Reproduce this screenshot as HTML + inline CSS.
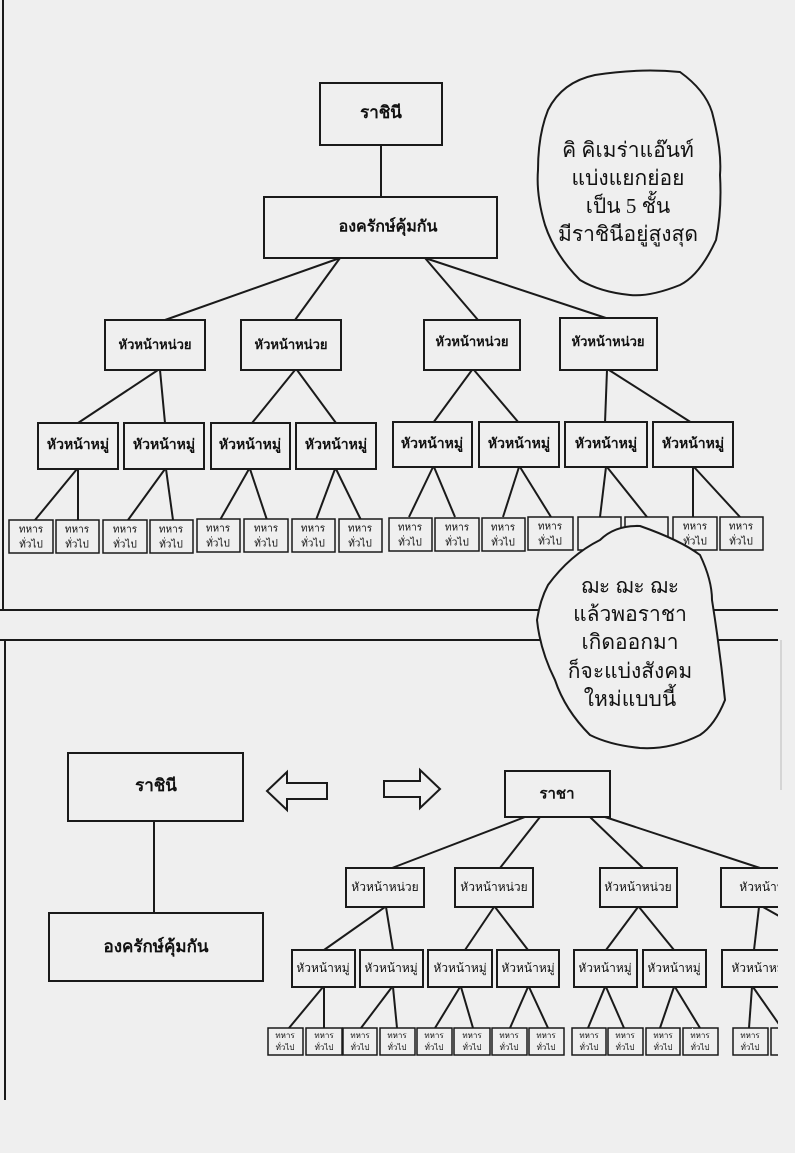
<!DOCTYPE html>
<html><head><meta charset="utf-8"><style>
html,body{margin:0;padding:0;background:#efefef;}
svg{display:block;}
text{font-family:"Liberation Serif","Noto Sans CJK SC",serif;fill:#111;text-anchor:middle;dominant-baseline:middle;}
.b{font-weight:bold;}
</style></head><body>
<svg width="795" height="1153" viewBox="0 0 795 1153" xmlns="http://www.w3.org/2000/svg">
<defs><clipPath id="c"><rect x="0" y="0" width="778" height="1153"/></clipPath></defs>
<rect width="795" height="1153" fill="#efefef"/>
<g clip-path="url(#c)">
<g stroke="#1a1a1a" stroke-width="2" fill="none">
<line x1="3" y1="0" x2="3" y2="610"/>
<line x1="0" y1="610" x2="778" y2="610"/>
<line x1="0" y1="640" x2="778" y2="640"/>
<line x1="5" y1="640" x2="5" y2="1100"/>
<line x1="381" y1="145" x2="381" y2="197"/>
<line x1="340" y1="258" x2="165" y2="320"/>
<line x1="340" y1="258" x2="295" y2="320"/>
<line x1="425" y1="258" x2="478" y2="320"/>
<line x1="425" y1="258" x2="612" y2="320"/>
<line x1="158" y1="370" x2="78" y2="423"/><line x1="160" y1="370" x2="165" y2="423"/>
<line x1="295" y1="370" x2="252" y2="423"/><line x1="297" y1="370" x2="336" y2="423"/>
<line x1="472" y1="370" x2="433" y2="423"/><line x1="474" y1="370" x2="519" y2="423"/>
<line x1="607" y1="370" x2="605" y2="423"/><line x1="609" y1="370" x2="692" y2="423"/>
<line x1="77" y1="469" x2="35" y2="520"/><line x1="78" y1="469" x2="78" y2="520"/>
<line x1="165" y1="469" x2="128" y2="520"/><line x1="166" y1="469" x2="173" y2="520"/>
<line x1="249" y1="469" x2="220" y2="520"/><line x1="250" y1="469" x2="267" y2="520"/>
<line x1="335" y1="469" x2="316" y2="520"/><line x1="336" y1="469" x2="361" y2="520"/>
<line x1="433" y1="467" x2="409" y2="517"/><line x1="434" y1="467" x2="455" y2="517"/>
<line x1="519" y1="467" x2="503" y2="517"/><line x1="520" y1="467" x2="551" y2="517"/>
<line x1="606" y1="467" x2="600" y2="517"/><line x1="607" y1="467" x2="647" y2="517"/>
<line x1="693" y1="467" x2="693" y2="517"/><line x1="694" y1="467" x2="740" y2="517"/>
<line x1="154" y1="821" x2="154" y2="913"/>
<line x1="525" y1="817" x2="392" y2="868"/>
<line x1="540" y1="817" x2="500" y2="868"/>
<line x1="590" y1="817" x2="643" y2="868"/>
<line x1="605" y1="817" x2="760" y2="868"/>
<line x1="385" y1="907" x2="324" y2="950"/><line x1="386" y1="907" x2="393" y2="950"/>
<line x1="494" y1="907" x2="465" y2="950"/><line x1="495" y1="907" x2="528" y2="950"/>
<line x1="638" y1="907" x2="606" y2="950"/><line x1="639" y1="907" x2="674" y2="950"/>
<line x1="759" y1="907" x2="754" y2="950"/><line x1="763" y1="907" x2="795" y2="925"/>
<line x1="323" y1="987" x2="289" y2="1028"/><line x1="324" y1="987" x2="324" y2="1028"/>
<line x1="392" y1="987" x2="361" y2="1028"/><line x1="393" y1="987" x2="397" y2="1028"/>
<line x1="460" y1="987" x2="435" y2="1028"/><line x1="461" y1="987" x2="473" y2="1028"/>
<line x1="528" y1="987" x2="510" y2="1028"/><line x1="529" y1="987" x2="548" y2="1028"/>
<line x1="605" y1="987" x2="588" y2="1028"/><line x1="606" y1="987" x2="624" y2="1028"/>
<line x1="674" y1="987" x2="660" y2="1028"/><line x1="675" y1="987" x2="700" y2="1028"/>
<line x1="752" y1="987" x2="749" y2="1028"/><line x1="753" y1="987" x2="790" y2="1040"/>
</g>
<g stroke="#1a1a1a" stroke-width="2" fill="#efefef">
<rect x="320" y="83" width="122" height="62"/>
<rect x="264" y="197" width="233" height="61"/>
<rect x="105" y="320" width="100" height="50"/>
<rect x="241" y="320" width="100" height="50"/>
<rect x="424" y="320" width="96" height="50"/>
<rect x="560" y="318" width="97" height="52"/>
<rect x="38" y="423" width="80" height="46"/><rect x="124" y="423" width="80" height="46"/>
<rect x="211" y="423" width="79" height="46"/><rect x="296" y="423" width="80" height="46"/>
<rect x="393" y="422" width="79" height="45"/><rect x="479" y="422" width="80" height="45"/>
<rect x="565" y="422" width="82" height="45"/><rect x="653" y="422" width="80" height="45"/>
<g stroke-width="1.5">
<rect x="9" y="520" width="44" height="33"/><rect x="56" y="520" width="43" height="33"/>
<rect x="103" y="520" width="44" height="33"/><rect x="150" y="520" width="43" height="33"/>
<rect x="197" y="519" width="43" height="33"/><rect x="244" y="519" width="44" height="33"/>
<rect x="292" y="519" width="43" height="33"/><rect x="339" y="519" width="43" height="33"/>
<rect x="389" y="518" width="43" height="33"/><rect x="435" y="518" width="44" height="33"/>
<rect x="482" y="518" width="43" height="33"/><rect x="528" y="517" width="45" height="33"/>
<rect x="578" y="517" width="43" height="33"/><rect x="625" y="517" width="43" height="33"/>
<rect x="673" y="517" width="44" height="33"/><rect x="720" y="517" width="43" height="33"/>
</g>
<rect x="68" y="753" width="175" height="68"/>
<rect x="49" y="913" width="214" height="68"/>
<rect x="505" y="771" width="105" height="46"/>
<rect x="346" y="868" width="78" height="39"/><rect x="455" y="868" width="78" height="39"/>
<rect x="600" y="868" width="77" height="39"/><rect x="721" y="868" width="80" height="39"/>
<rect x="292" y="950" width="63" height="37"/><rect x="360" y="950" width="63" height="37"/>
<rect x="428" y="950" width="64" height="37"/><rect x="497" y="950" width="62" height="37"/>
<rect x="574" y="950" width="63" height="37"/><rect x="643" y="950" width="63" height="37"/>
<rect x="722" y="950" width="75" height="37"/>
<g stroke-width="1.5">
<rect x="268" y="1028" width="35" height="27"/><rect x="306" y="1028" width="36" height="27"/>
<rect x="343" y="1028" width="34" height="27"/><rect x="380" y="1028" width="35" height="27"/>
<rect x="417" y="1028" width="35" height="27"/><rect x="454" y="1028" width="36" height="27"/>
<rect x="492" y="1028" width="35" height="27"/><rect x="529" y="1028" width="35" height="27"/>
<rect x="572" y="1028" width="34" height="27"/><rect x="608" y="1028" width="35" height="27"/>
<rect x="646" y="1028" width="34" height="27"/><rect x="683" y="1028" width="35" height="27"/>
<rect x="692" y="1028" width="1" height="1" stroke="none"/>
<rect x="733" y="1028" width="35" height="27"/><rect x="771" y="1028" width="30" height="27"/>
</g>
<path d="M267 791 L287 772 L287 783 L327 783 L327 799 L287 799 L287 810 Z"/>
<path d="M440 789 L420 770 L420 781 L384 781 L384 797 L420 797 L420 808 Z"/>
<path d="M595 75 Q640 68 680 72 Q705 90 712 112 Q722 150 720 175 Q722 210 716 240 Q700 275 680 285 Q650 297 630 295 Q600 292 580 280 Q555 255 545 225 Q536 195 538 170 Q538 135 548 110 Q562 82 595 75 Z"/>
<path d="M548 585 Q570 555 600 540 Q615 525 640 526 Q680 540 700 555 Q712 580 712 600 Q720 650 725 700 Q715 725 700 735 Q670 750 640 748 Q610 745 590 735 Q565 710 555 680 Q540 650 537 620 Q540 600 548 585 Z"/>
</g>
<g class="b">
<text x="381" y="114" font-size="17">ราชินี</text>
<text x="388" y="228" font-size="16">องครักษ์คุ้มกัน</text>
<text x="155" y="346" font-size="13">หัวหน้าหน่วย</text>
<text x="291" y="346" font-size="13">หัวหน้าหน่วย</text>
<text x="472" y="343" font-size="13">หัวหน้าหน่วย</text>
<text x="608" y="343" font-size="13">หัวหน้าหน่วย</text>
<text x="78" y="446" font-size="14">หัวหน้าหมู่</text><text x="164" y="446" font-size="14">หัวหน้าหมู่</text>
<text x="250" y="446" font-size="14">หัวหน้าหมู่</text><text x="336" y="446" font-size="14">หัวหน้าหมู่</text>
<text x="432" y="445" font-size="14">หัวหน้าหมู่</text><text x="519" y="445" font-size="14">หัวหน้าหมู่</text>
<text x="606" y="445" font-size="14">หัวหน้าหมู่</text><text x="693" y="445" font-size="14">หัวหน้าหมู่</text>
<text x="156" y="787" font-size="17">ราชินี</text>
<text x="156" y="948" font-size="17">องครักษ์คุ้มกัน</text>
<text x="557" y="795" font-size="15">ราชา</text>
<text x="628" y="152" font-size="21" font-weight="normal">คิ คิเมร่าแอ๊นท์</text>
<text x="628" y="180" font-size="21" font-weight="normal">แบ่งแยกย่อย</text>
<text x="628" y="208" font-size="21" font-weight="normal">เป็น 5 ชั้น</text>
<text x="628" y="236" font-size="21" font-weight="normal">มีราชินีอยู่สูงสุด</text>
<text x="630" y="588" font-size="21" font-weight="normal">ฌะ ฌะ ฌะ</text>
<text x="630" y="616" font-size="21" font-weight="normal">แล้วพอราชา</text>
<text x="630" y="644" font-size="21" font-weight="normal">เกิดออกมา</text>
<text x="630" y="673" font-size="21" font-weight="normal">ก็จะแบ่งสังคม</text>
<text x="630" y="701" font-size="21" font-weight="normal">ใหม่แบบนี้</text>
</g>
<g font-size="12">
<text x="385" y="888">หัวหน้าหน่วย</text><text x="494" y="888">หัวหน้าหน่วย</text>
<text x="638" y="888">หัวหน้าหน่วย</text><text x="762" y="888">หัวหน้าห</text>
<text x="323" y="969">หัวหน้าหมู่</text><text x="391" y="969">หัวหน้าหมู่</text>
<text x="460" y="969">หัวหน้าหมู่</text><text x="528" y="969">หัวหน้าหมู่</text>
<text x="605" y="969">หัวหน้าหมู่</text><text x="674" y="969">หัวหน้าหมู่</text>
<text x="758" y="969">หัวหน้าหมู่</text>
</g>
<g font-size="10">
<text x="31" y="530">ทหาร</text><text x="31" y="545">ทั่วไป</text>
<text x="77" y="530">ทหาร</text><text x="77" y="545">ทั่วไป</text>
<text x="125" y="530">ทหาร</text><text x="125" y="545">ทั่วไป</text>
<text x="171" y="530">ทหาร</text><text x="171" y="545">ทั่วไป</text>
<text x="218" y="529">ทหาร</text><text x="218" y="544">ทั่วไป</text>
<text x="266" y="529">ทหาร</text><text x="266" y="544">ทั่วไป</text>
<text x="313" y="529">ทหาร</text><text x="313" y="544">ทั่วไป</text>
<text x="360" y="529">ทหาร</text><text x="360" y="544">ทั่วไป</text>
<text x="410" y="528">ทหาร</text><text x="410" y="543">ทั่วไป</text>
<text x="457" y="528">ทหาร</text><text x="457" y="543">ทั่วไป</text>
<text x="503" y="528">ทหาร</text><text x="503" y="543">ทั่วไป</text>
<text x="550" y="527">ทหาร</text><text x="550" y="542">ทั่วไป</text>
<text x="695" y="527">ทหาร</text><text x="695" y="542">ทั่วไป</text>
<text x="741" y="527">ทหาร</text><text x="741" y="542">ทั่วไป</text>
</g>
<g font-size="8">
<text x="285" y="1036">ทหาร</text><text x="285" y="1048">ทั่วไป</text>
<text x="324" y="1036">ทหาร</text><text x="324" y="1048">ทั่วไป</text>
<text x="360" y="1036">ทหาร</text><text x="360" y="1048">ทั่วไป</text>
<text x="397" y="1036">ทหาร</text><text x="397" y="1048">ทั่วไป</text>
<text x="434" y="1036">ทหาร</text><text x="434" y="1048">ทั่วไป</text>
<text x="472" y="1036">ทหาร</text><text x="472" y="1048">ทั่วไป</text>
<text x="509" y="1036">ทหาร</text><text x="509" y="1048">ทั่วไป</text>
<text x="546" y="1036">ทหาร</text><text x="546" y="1048">ทั่วไป</text>
<text x="589" y="1036">ทหาร</text><text x="589" y="1048">ทั่วไป</text>
<text x="625" y="1036">ทหาร</text><text x="625" y="1048">ทั่วไป</text>
<text x="663" y="1036">ทหาร</text><text x="663" y="1048">ทั่วไป</text>
<text x="700" y="1036">ทหาร</text><text x="700" y="1048">ทั่วไป</text>
<text x="750" y="1036">ทหาร</text><text x="750" y="1048">ทั่วไป</text>
</g>
</g>
<line x1="781" y1="640" x2="781" y2="790" stroke="#bbb" stroke-width="1"/>
</svg>
</body></html>
